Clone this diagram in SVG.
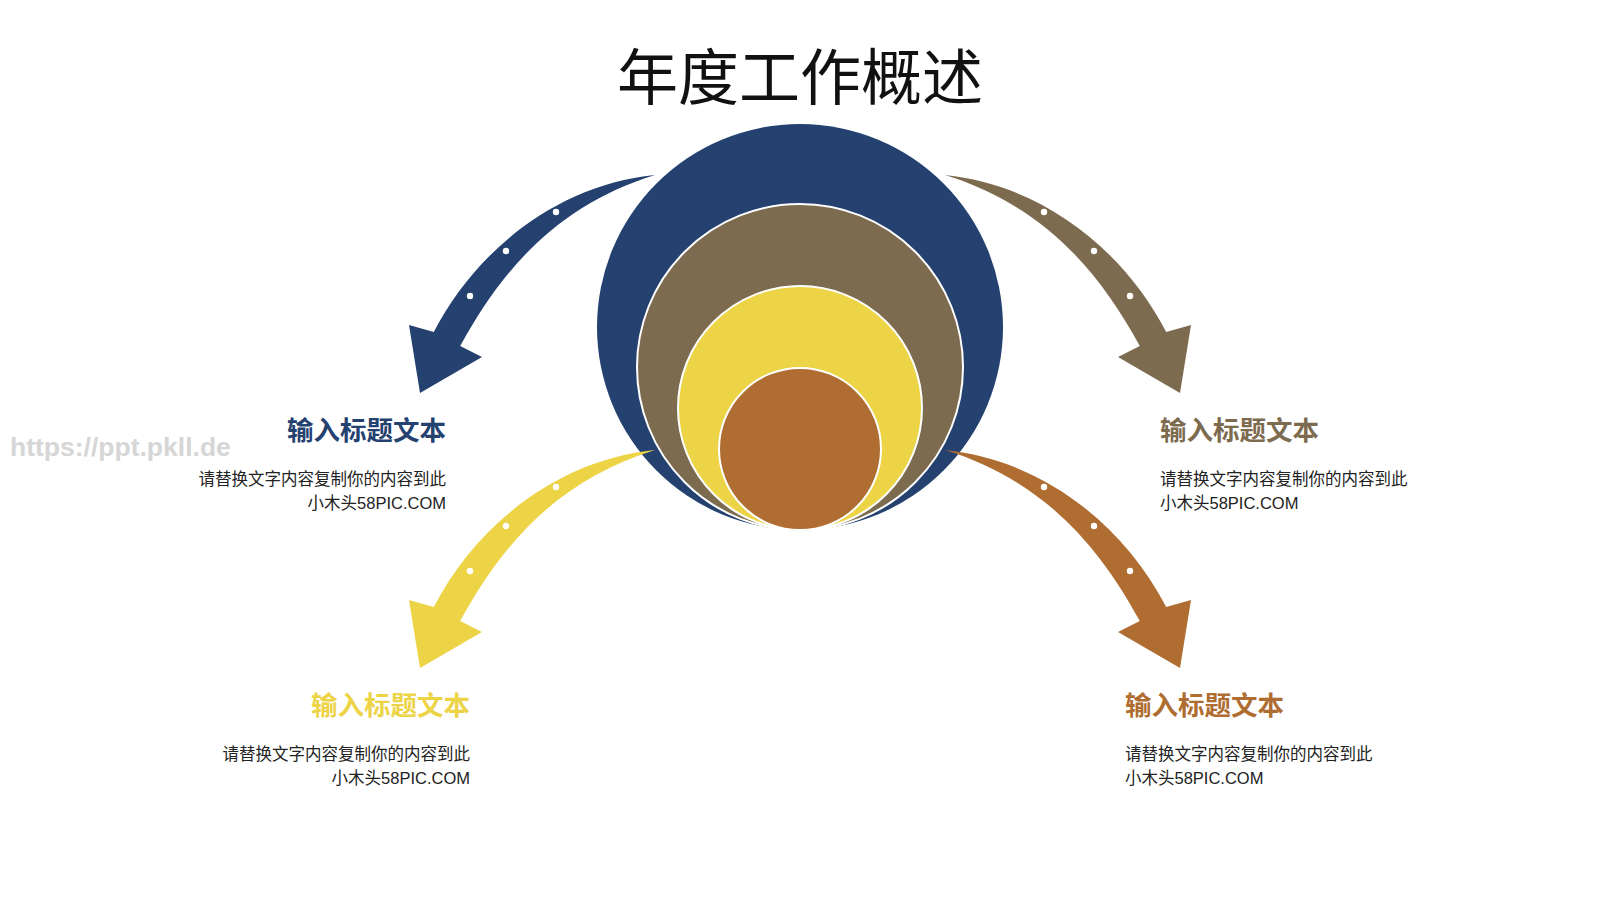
<svg xmlns="http://www.w3.org/2000/svg" xmlns:xlink="http://www.w3.org/1999/xlink" width="1600" height="900" viewBox="0 0 1600 900">
<style>
.title{font-family:"Noto Sans CJK SC","Noto Sans",sans-serif;font-size:61px;fill:#111}
.h{font-family:"Noto Sans CJK SC",sans-serif;font-weight:bold;font-size:26.5px}
.b{font-family:"Liberation Sans","Noto Sans CJK SC",sans-serif;font-size:16.5px;fill:#222}
.dot{fill:#fff}
.ring{stroke:#fff;stroke-width:2}
.wm{font-family:"Liberation Sans",sans-serif;font-weight:bold;font-size:26.5px;fill:#d6d6d6}
</style>
<defs>
<g id="arrow">
<path d="M 655,175 C 555,185.2 474.9,252.5 433.8,332 L 409,325 L 420,393 L 482,357 L 460.2,346 C 503.1,267.5 559,204.8 655,175 Z"/>
<circle class="dot" cx="556" cy="212" r="3.2"/>
<circle class="dot" cx="506" cy="251" r="3.2"/>
<circle class="dot" cx="470" cy="296" r="3.2"/>
</g>
</defs>
<rect width="1600" height="900" fill="#fff"/>
<text class="title" x="800" y="100" text-anchor="middle">年度工作概述</text>
<g id="rings">
<circle id="ring-blue" cx="800" cy="327" r="203" fill="#24416F"/>
<circle id="ring-brown" class="ring" cx="800" cy="367" r="163" fill="#7D6B50"/>
<circle id="ring-yellow" class="ring" cx="800" cy="408" r="122" fill="#EDD447"/>
<circle id="ring-orange" class="ring" cx="800" cy="449" r="81" fill="#AF6D31"/>
</g>
<g id="connectors">
<use id="arrow-blue" xlink:href="#arrow" href="#arrow" fill="#24416F"/>
<use id="arrow-brown" xlink:href="#arrow" href="#arrow" fill="#7D6B50" transform="matrix(-1 0 0 1 1600 0)"/>
<use id="arrow-yellow" xlink:href="#arrow" href="#arrow" fill="#EDD447" transform="translate(0 275)"/>
<use id="arrow-orange" xlink:href="#arrow" href="#arrow" fill="#AF6D31" transform="matrix(-1 0 0 1 1600 275)"/>
</g>
<text class="wm" x="10" y="456">https://ppt.pkll.de</text>
<g id="node-blue" text-anchor="end">
<text class="h" x="446" y="440" fill="#24416F">输入标题文本</text>
<text class="b" x="446" y="485">请替换文字内容复制你的内容到此</text>
<text class="b" x="446" y="509">小木头58PIC.COM</text>
</g>
<g id="node-brown">
<text class="h" x="1160" y="440" fill="#7D6B50">输入标题文本</text>
<text class="b" x="1160" y="485">请替换文字内容复制你的内容到此</text>
<text class="b" x="1160" y="509">小木头58PIC.COM</text>
</g>
<g id="node-yellow" text-anchor="end">
<text class="h" x="470" y="715" fill="#EDD447">输入标题文本</text>
<text class="b" x="470" y="760">请替换文字内容复制你的内容到此</text>
<text class="b" x="470" y="784">小木头58PIC.COM</text>
</g>
<g id="node-orange">
<text class="h" x="1125" y="715" fill="#AF6D31">输入标题文本</text>
<text class="b" x="1125" y="760">请替换文字内容复制你的内容到此</text>
<text class="b" x="1125" y="784">小木头58PIC.COM</text>
</g>
</svg>
